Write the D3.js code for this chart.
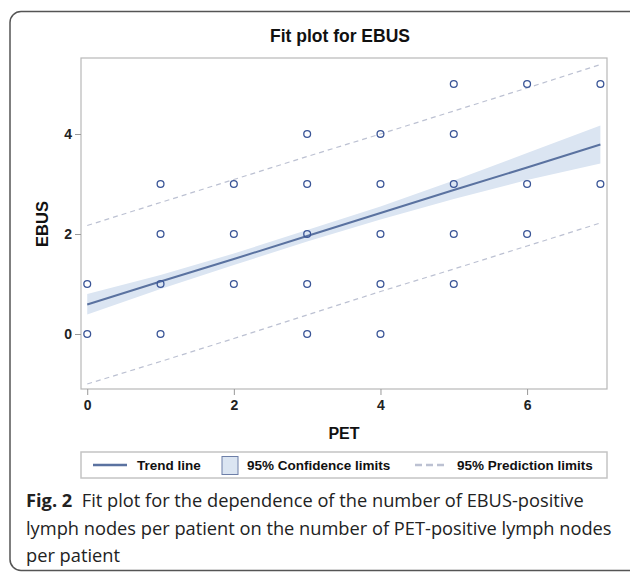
<!DOCTYPE html>
<html>
<head>
<meta charset="utf-8">
<script src="https://cdn.jsdelivr.net/npm/d3@7"></script>
<style>
  body { margin: 0; background: #fff; }
  svg { display: block; }
</style>
</head>
<body>
<div id="chart"></div>
<script>
// ---- data ----
var pet = [0, 0, 1, 1, 1, 1, 2, 2, 2, 3, 3, 3, 3, 3, 4, 4, 4, 4, 4, 5, 5, 5, 5, 5, 6, 6, 6, 7, 7];
var ebus = [0, 1, 0, 1, 2, 3, 1, 2, 3, 0, 1, 2, 3, 4, 0, 1, 2, 3, 4, 1, 2, 3, 4, 5, 2, 3, 5, 3, 5];

var fitX = [0, 1, 2, 3, 4, 5, 6, 7];
var trend = [0.59, 1.05, 1.50, 1.96, 2.42, 2.88, 3.33, 3.79];
var clLower = [0.39, 0.90, 1.38, 1.85, 2.29, 2.70, 3.08, 3.41];
var clUpper = [0.80, 1.18, 1.61, 2.08, 2.55, 3.07, 3.62, 4.17];
var plLower = [-1.00, -0.55, -0.09, 0.38, 0.85, 1.30, 1.76, 2.22];
var plUpper = [2.17, 2.63, 3.09, 3.55, 4.00, 4.46, 4.92, 5.39];

var xTicks = [0, 2, 4, 6];
var yTicks = [0, 2, 4];

var legendItems = ["Trend line", "95% Confidence limits", "95% Prediction limits"];
var captionLines = [
  ["Fig. 2", "  Fit plot for the dependence of the number of EBUS-positive"],
  ["", "lymph nodes per patient on the number of PET-positive lymph nodes"],
  ["", "per patient"]
];

// ---- layout ----
var width = 630, height = 572;
var plot = { left: 81, right: 607, top: 58, bottom: 389 };

var markColor = "#3a5597";
var lineColor = "#5a72a0";
var bandColor = "#dbe5f2";
var predColor = "#bcc1d2";
var frameColor = "#b8b8b8";
var axisFont = "'Liberation Sans', Arial, sans-serif";

var svg = d3.select("#chart").append("svg")
  .attr("width", width)
  .attr("height", height);

// outer rounded frame (right edge runs off the page)
svg.append("rect")
  .attr("x", 10).attr("y", 11.5)
  .attr("width", 640).attr("height", 559)
  .attr("rx", 11)
  .attr("fill", "none")
  .attr("stroke", "#555")
  .attr("stroke-width", 1.5);

var x = d3.scaleLinear().domain([-0.085, 7.09]).range([plot.left, plot.right]);
var y = d3.scaleLinear().domain([-1.1, 5.52]).range([plot.bottom, plot.top]);

var fit = fitX.map(function (v, i) {
  return { x: v, t: trend[i], cl: clLower[i], cu: clUpper[i], pl: plLower[i], pu: plUpper[i] };
});

// title
svg.append("text")
  .attr("x", 340).attr("y", 42)
  .attr("text-anchor", "middle")
  .style("font-family", axisFont)
  .style("font-weight", "bold")
  .style("font-size", "17.5px")
  .attr("fill", "#111")
  .text("Fit plot for EBUS");

// confidence band
svg.append("path")
  .datum(fit)
  .attr("fill", bandColor)
  .attr("d", d3.area()
    .x(function (d) { return x(d.x); })
    .y0(function (d) { return y(d.cl); })
    .y1(function (d) { return y(d.cu); }));

// prediction limits
["pl", "pu"].forEach(function (k) {
  svg.append("path")
    .datum(fit)
    .attr("fill", "none")
    .attr("stroke", predColor)
    .attr("stroke-width", 1.2)
    .attr("stroke-dasharray", "5,4")
    .attr("d", d3.line()
      .x(function (d) { return x(d.x); })
      .y(function (d) { return y(d[k]); }));
});

// trend line
svg.append("path")
  .datum(fit)
  .attr("fill", "none")
  .attr("stroke", lineColor)
  .attr("stroke-width", 2)
  .attr("d", d3.line()
    .x(function (d) { return x(d.x); })
    .y(function (d) { return y(d.t); }));

// points
svg.append("g").selectAll("circle")
  .data(pet)
  .enter()
  .append("circle")
  .attr("cx", function (d) { return x(d); })
  .attr("cy", function (d, i) { return y(ebus[i]); })
  .attr("r", 3.4)
  .attr("fill", "none")
  .attr("stroke", markColor)
  .attr("stroke-width", 1.3);

// plot frame
svg.append("rect")
  .attr("x", plot.left).attr("y", plot.top)
  .attr("width", plot.right - plot.left)
  .attr("height", plot.bottom - plot.top)
  .attr("fill", "none")
  .attr("stroke", frameColor)
  .attr("stroke-width", 1.2);

// axes
var xAxis = svg.append("g")
  .attr("transform", "translate(0," + plot.bottom + ")")
  .call(d3.axisBottom(x).tickValues(xTicks).tickFormat(d3.format("d")).tickSize(6).tickPadding(5));
var yAxis = svg.append("g")
  .attr("transform", "translate(" + plot.left + ",0)")
  .call(d3.axisLeft(y).tickValues(yTicks).tickFormat(d3.format("d")).tickSize(6).tickPadding(3));

[xAxis, yAxis].forEach(function (g) {
  g.select(".domain").remove();
  g.selectAll(".tick line").attr("stroke", "#999");
  g.selectAll(".tick text")
    .style("font-family", axisFont)
    .style("font-weight", "bold")
    .style("font-size", "14px")
    .attr("fill", "#222");
});

// axis labels
svg.append("text")
  .attr("x", 344).attr("y", 439)
  .attr("text-anchor", "middle")
  .style("font-family", axisFont)
  .style("font-weight", "bold")
  .style("font-size", "16px")
  .attr("fill", "#111")
  .text("PET");

svg.append("text")
  .attr("transform", "translate(48,224) rotate(-90)")
  .attr("text-anchor", "middle")
  .style("font-family", axisFont)
  .style("font-weight", "bold")
  .style("font-size", "16.5px")
  .attr("fill", "#111")
  .text("EBUS");

// legend
var legend = svg.append("g");
legend.append("rect")
  .attr("x", plot.left).attr("y", 452)
  .attr("width", plot.right - plot.left).attr("height", 26)
  .attr("fill", "#fff")
  .attr("stroke", "#c4c4c4")
  .attr("stroke-width", 1.5);

legend.append("line")
  .attr("x1", 93).attr("x2", 127).attr("y1", 465).attr("y2", 465)
  .attr("stroke", lineColor).attr("stroke-width", 2.5);
legend.append("rect")
  .attr("x", 222).attr("y", 456.5).attr("width", 16).attr("height", 18)
  .attr("fill", bandColor).attr("stroke", "#6d7fa8").attr("stroke-width", 1);
legend.append("line")
  .attr("x1", 415).attr("x2", 447).attr("y1", 465).attr("y2", 465)
  .attr("stroke", predColor).attr("stroke-width", 2.5)
  .attr("stroke-dasharray", "7,4");

var legendX = [137, 247, 457];
legend.selectAll("text.leg")
  .data(legendItems)
  .enter()
  .append("text")
  .attr("class", "leg")
  .attr("x", function (d, i) { return legendX[i]; })
  .attr("y", 470)
  .style("font-family", axisFont)
  .style("font-weight", "bold")
  .style("font-size", "13.5px")
  .attr("fill", "#111")
  .text(function (d) { return d; });

// caption
var caption = svg.append("g")
  .style("font-family", "'Open Sans', 'Noto Sans', sans-serif")
  .style("font-size", "16.5px")
  .attr("fill", "#222");

var captionTexts = [];
captionLines.forEach(function (parts, i) {
  var t = caption.append("text")
    .attr("x", 26)
    .attr("y", 507 + i * 27.5)
    .attr("xml:space", "preserve");
  if (parts[0]) {
    t.append("tspan").style("font-weight", "bold").text(parts[0]);
  }
  t.append("tspan").text(parts[1]);
  captionTexts.push(t);
});

// the second caption line runs to about x=612 in the figure; size the font to that
var w2 = captionTexts[1].node().getComputedTextLength();
var fs = 16.5 * 586 / w2;
caption.style("font-size", fs + "px");
</script>
</body>
</html>
